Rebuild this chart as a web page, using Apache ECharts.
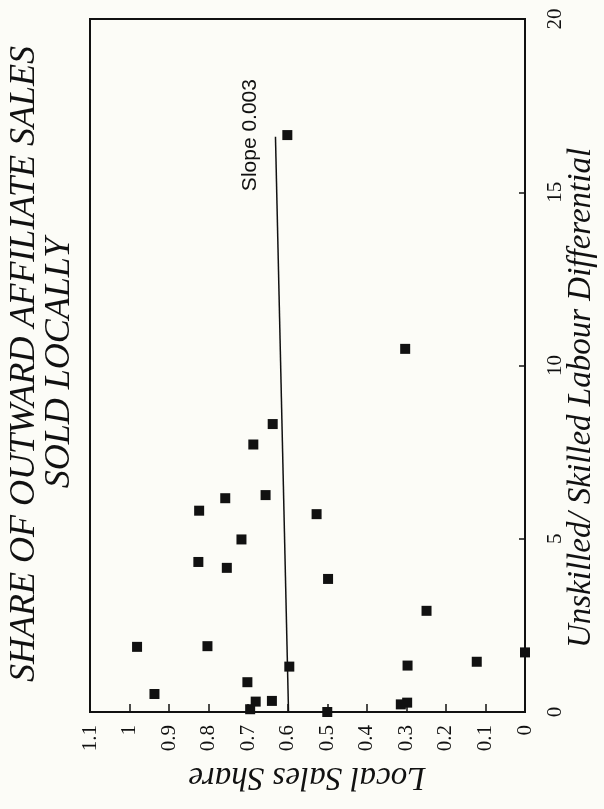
<!DOCTYPE html>
<html>
<head>
<meta charset="utf-8">
<script src="https://cdn.jsdelivr.net/npm/echarts@6/dist/echarts.min.js"></script>
<style>
html,body{margin:0;padding:0;background:#fcfcf7;}
#chart{width:604px;height:809px;}
</style>
</head>
<body>
<div id="chart"></div>
<script>
// Local Sales Share (horizontal axis in this rotated layout, 1.1 on the left, 0 on the right)
const localShare = [0.601, 0.303, 0.638, 0.687, 0.758, 0.656, 0.824, 0.717, 0.826, 0.754,
  0.981, 0.803, 0.596, 0.702, 0.937, 0.681, 0.640, 0.695,
  0.527, 0.498, 0.249, 0.297, 0.122, 0.000, 0.298, 0.314, 0.500];
// Unskilled / Skilled Labour Differential (vertical axis, 0 at bottom, 20 at top)
const labourDiff = [16.65, 10.48, 8.31, 7.72, 6.17, 6.26, 5.81, 4.98, 4.33, 4.16,
  1.88, 1.90, 1.31, 0.86, 0.52, 0.30, 0.32, 0.08,
  5.71, 3.84, 2.92, 1.34, 1.45, 1.72, 0.27, 0.22, 0.00];
// Fitted line end points
const trendShare = [0.598, 0.631];
const trendDiff = [0, 16.6];
const slopeLabel = 'Slope 0.003';
const slopeLabelAt = [0.695, 16.65];

const shareTicks = {min: 0, max: 1.1, interval: 0.1};
const diffTicks = {min: 0, max: 20, interval: 5};

const titleLines = ['SHARE OF OUTWARD AFFILIATE SALES', 'SOLD LOCALLY'];
const xName = 'Unskilled/ Skilled Labour Differential';
const yName = 'Local Sales Share';

const ink = '#111111';
const serif = '"Liberation Serif", "DejaVu Serif", serif';

const scatterData = localShare.map((s, i) => [s, labourDiff[i]]);
const trendData = trendShare.map((s, i) => [s, trendDiff[i]]);

const chart = echarts.init(document.getElementById('chart'), null, {renderer: 'canvas'});
const option = {
  backgroundColor: '#fcfcf7',
  animation: false,
  grid: {left: 90, right: 79, top: 19, bottom: 97, show: true, borderColor: ink, borderWidth: 2, backgroundColor: 'transparent'},
  xAxis: {
    type: 'value', min: shareTicks.min, max: shareTicks.max, interval: shareTicks.interval,
    inverse: true, position: 'bottom',
    axisLine: {show: true, onZero: false, lineStyle: {color: ink, width: 2}},
    axisTick: {show: true, inside: true, length: 8, lineStyle: {color: ink, width: 1.5}},
    axisLabel: {rotate: 90, margin: 13, fontFamily: serif, fontSize: 21, color: ink, showMinLabel: true, showMaxLabel: true},
    splitLine: {show: false}
  },
  yAxis: {
    type: 'value', min: diffTicks.min, max: diffTicks.max, interval: diffTicks.interval,
    position: 'right',
    axisLine: {show: true, onZero: false, lineStyle: {color: ink, width: 2}},
    axisTick: {show: true, inside: true, length: 6, lineStyle: {color: ink, width: 1.5}},
    axisLabel: {rotate: 90, margin: 20, fontFamily: serif, fontSize: 21, color: ink, showMinLabel: true, showMaxLabel: true},
    splitLine: {show: false}
  },
  series: [
    {
      type: 'line', data: trendData, showSymbol: false, symbol: 'none',
      lineStyle: {color: ink, width: 1.5}, z: 2, silent: true
    },
    {
      type: 'scatter', data: scatterData, symbol: 'rect', symbolSize: 10,
      itemStyle: {color: ink, opacity: 1}, z: 3
    }
  ]
};
chart.setOption(option);

const lp = chart.convertToPixel({gridIndex: 0}, slopeLabelAt);
chart.setOption({
  graphic: [
    {type: 'text', x: 25, y: 364, rotation: Math.PI / 2,
      style: {text: titleLines[0], font: 'italic 36px ' + serif, fill: ink, align: 'center', verticalAlign: 'middle'}},
    {type: 'text', x: 60, y: 363, rotation: Math.PI / 2,
      style: {text: titleLines[1], font: 'italic 36px ' + serif, fill: ink, align: 'center', verticalAlign: 'middle'}},
    {type: 'text', x: 581, y: 398, rotation: Math.PI / 2,
      style: {text: xName, font: 'italic 33px ' + serif, fill: ink, align: 'center', verticalAlign: 'middle'}},
    {type: 'text', x: 307, y: 777, rotation: Math.PI,
      style: {text: yName, font: 'italic 33px ' + serif, fill: ink, align: 'center', verticalAlign: 'middle'}},
    {type: 'text', x: lp[0], y: lp[1], rotation: Math.PI / 2,
      style: {text: slopeLabel, font: '21px "Liberation Sans", Arial, sans-serif', fill: ink, align: 'center', verticalAlign: 'middle'}}
  ]
});
</script>
</body>
</html>
